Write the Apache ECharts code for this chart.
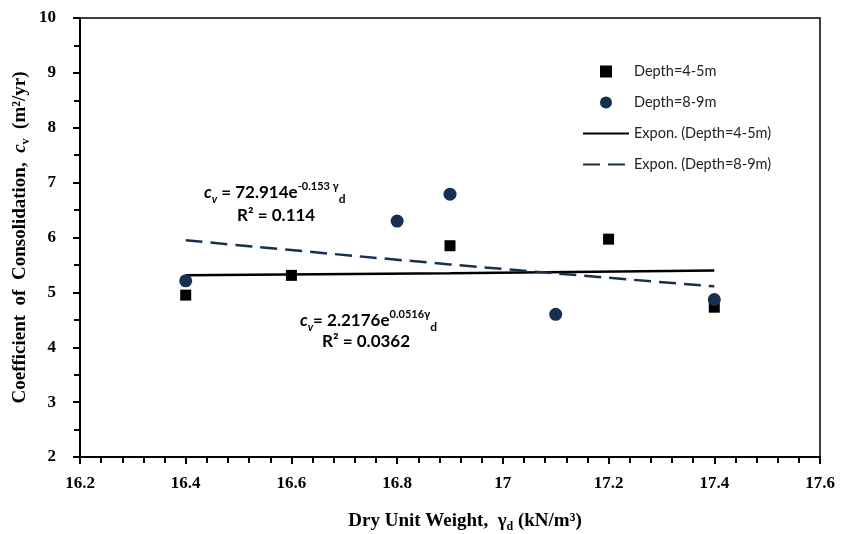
<!DOCTYPE html>
<html>
<head>
<meta charset="utf-8">
<script src="https://cdn.jsdelivr.net/npm/echarts@6/dist/echarts.min.js"></script>
<style>
  html, body { margin: 0; padding: 0; background: #fff; }
  #chart { width: 841px; height: 534px; }
</style>
</head>
<body>
<div id="chart"></div>
<script>
// dry unit weight (kN/m3) and cv (m2/yr)
const depth45X = [16.4, 16.6, 16.9, 17.2, 17.4]
const depth45Y = [4.95, 5.31, 5.85, 5.97, 4.73]
const depth89X = [16.4, 16.8, 16.9, 17.1, 17.4]
const depth89Y = [5.21, 6.30, 6.79, 4.60, 4.87]
// exponential trendlines (as drawn)
const trend45X = [16.4, 16.9, 17.4]
const trend45Y = [5.31, 5.35, 5.40]
const trend89X = [16.4, 16.9, 17.4]
const trend89Y = [5.95, 5.51, 5.11]

const navy = '#17304f'
const serif = 'Liberation Serif'
const sans = 'Lato'

const pairs = (xs, ys) => xs.map((x, i) => [x, ys[i]])

const eqRich = (color) => ({
  i: { fontFamily: sans, fontStyle: 'italic', fontWeight: 'bold', fontSize: 17, color: color, lineHeight: 24 },
  s: { fontFamily: sans, fontStyle: 'italic', fontWeight: 'bold', fontSize: 11, color: color, verticalAlign: 'bottom', lineHeight: 24 },
  t: { fontFamily: sans, fontWeight: 'bold', fontSize: 17, color: color, lineHeight: 24 },
  p: { fontFamily: sans, fontWeight: 'bold', fontSize: 11, color: color, verticalAlign: 'top', lineHeight: 24 },
  d: { fontFamily: sans, fontWeight: 'bold', fontSize: 12, color: color, verticalAlign: 'bottom', lineHeight: 24 }
})

const option = {
  animation: false,
  backgroundColor: '#fff',
  grid: {
    left: 80, right: 21, top: 18, bottom: 77,
    outerBoundsMode: 'none',
    containLabel: false,
    show: true, borderColor: '#000', borderWidth: 1.5
  },
  legend: {
    orient: 'vertical',
    left: 577,
    top: 59,
    itemWidth: 46,
    itemHeight: 12,
    itemGap: 16,
    textStyle: { fontFamily: sans, fontSize: 14.5, color: '#222' },
    data: [
      { name: 'Depth=4-5m', icon: 'path://M0,0L10,0L10,10L0,10Z' },
      { name: 'Depth=8-9m', icon: 'circle' },
      { name: 'Expon. (Depth=4-5m)', itemStyle: { opacity: 0 } },
      { name: 'Expon. (Depth=8-9m)', itemStyle: { opacity: 0 } }
    ]
  },
  xAxis: {
    type: 'value',
    min: 16.2,
    max: 17.6,
    interval: 0.2,
    name: '{b|Dry Unit Weight,  γ}{sub|d}{b| (kN/m³)}',
    nameLocation: 'middle',
    nameGap: 52,
    nameTextStyle: {
      padding: [0, 0, 0, 30],
      rich: {
        b: { fontFamily: serif, fontWeight: 'bold', fontSize: 19, color: '#000', lineHeight: 24 },
        sub: { fontFamily: serif, fontWeight: 'bold', fontSize: 12, color: '#000', verticalAlign: 'bottom', lineHeight: 24 }
      }
    },
    axisLine: { lineStyle: { color: '#000', width: 2 } },
    axisTick: { length: 7, lineStyle: { color: '#000', width: 2 } },
    minorTick: { show: true, splitNumber: 5, length: 6, lineStyle: { color: '#000', width: 2 } },
    splitLine: { show: false },
    axisLabel: { fontFamily: serif, fontWeight: 'bold', fontSize: 17, color: '#000', margin: 18 }
  },
  yAxis: {
    type: 'value',
    min: 2,
    max: 10,
    interval: 1,
    name: '{b|Coefficient  of  Consolidation,  }{i|c}{sub|v}{b|  (m²/yr)}',
    nameLocation: 'middle',
    nameGap: 48,
    nameMoveOverlap: false,
    nameRotate: 90,
    nameTextStyle: {
      rich: {
        b: { fontFamily: serif, fontWeight: 'bold', fontSize: 19, color: '#000', lineHeight: 24 },
        i: { fontFamily: serif, fontWeight: 'bold', fontStyle: 'italic', fontSize: 19, color: '#000', lineHeight: 24 },
        sub: { fontFamily: serif, fontWeight: 'bold', fontSize: 12, color: '#000', verticalAlign: 'bottom', lineHeight: 24 }
      }
    },
    axisLine: { show: true, lineStyle: { color: '#000', width: 2 } },
    axisTick: { show: true, length: 7, lineStyle: { color: '#000', width: 2 } },
    minorTick: { show: true, splitNumber: 2, length: 6, lineStyle: { color: '#000', width: 2 } },
    splitLine: { show: false },
    axisLabel: { fontFamily: serif, fontWeight: 'bold', fontSize: 17, color: '#000', margin: 24 }
  },
  series: [
    {
      name: 'Expon. (Depth=4-5m)',
      type: 'line',
      smooth: true,
      symbol: 'none',
      lineStyle: { color: '#000', width: 2.5 },
      itemStyle: { color: '#000' },
      data: pairs(trend45X, trend45Y),
      z: 2
    },
    {
      name: 'Expon. (Depth=8-9m)',
      type: 'line',
      smooth: true,
      symbol: 'none',
      lineStyle: { color: navy, width: 2.5, type: [17, 8] },
      itemStyle: { color: navy },
      data: pairs(trend89X, trend89Y),
      z: 2
    },
    {
      name: 'Depth=4-5m',
      type: 'scatter',
      symbol: 'rect',
      symbolSize: 11,
      itemStyle: { color: '#000', opacity: 1 },
      data: pairs(depth45X, depth45Y),
      z: 3
    },
    {
      name: 'Depth=8-9m',
      type: 'scatter',
      symbol: 'circle',
      symbolSize: 13,
      itemStyle: { color: navy, opacity: 1 },
      data: pairs(depth89X, depth89Y),
      z: 4
    }
  ],
  graphic: [
    {
      type: 'text', left: 204, top: 181,
      style: { text: '{i|c}{s|v}{t| = 72.914e}{p|-0.153 γ}{d|d}', rich: eqRich(navy) }
    },
    {
      type: 'text', left: 237, top: 207,
      style: { text: '{t|R² = 0.114}', rich: eqRich(navy) }
    },
    {
      type: 'text', left: 300, top: 309,
      style: { text: '{i|c}{s|v}{t|= 2.2176e}{p|0.0516γ}{d|d}', rich: eqRich('#1a1a1a') }
    },
    {
      type: 'text', left: 322, top: 333,
      style: { text: '{t|R² = 0.0362}', rich: eqRich('#1a1a1a') }
    }
  ]
}

const chart = echarts.init(document.getElementById('chart'))
chart.setOption(option)
</script>
</body>
</html>
